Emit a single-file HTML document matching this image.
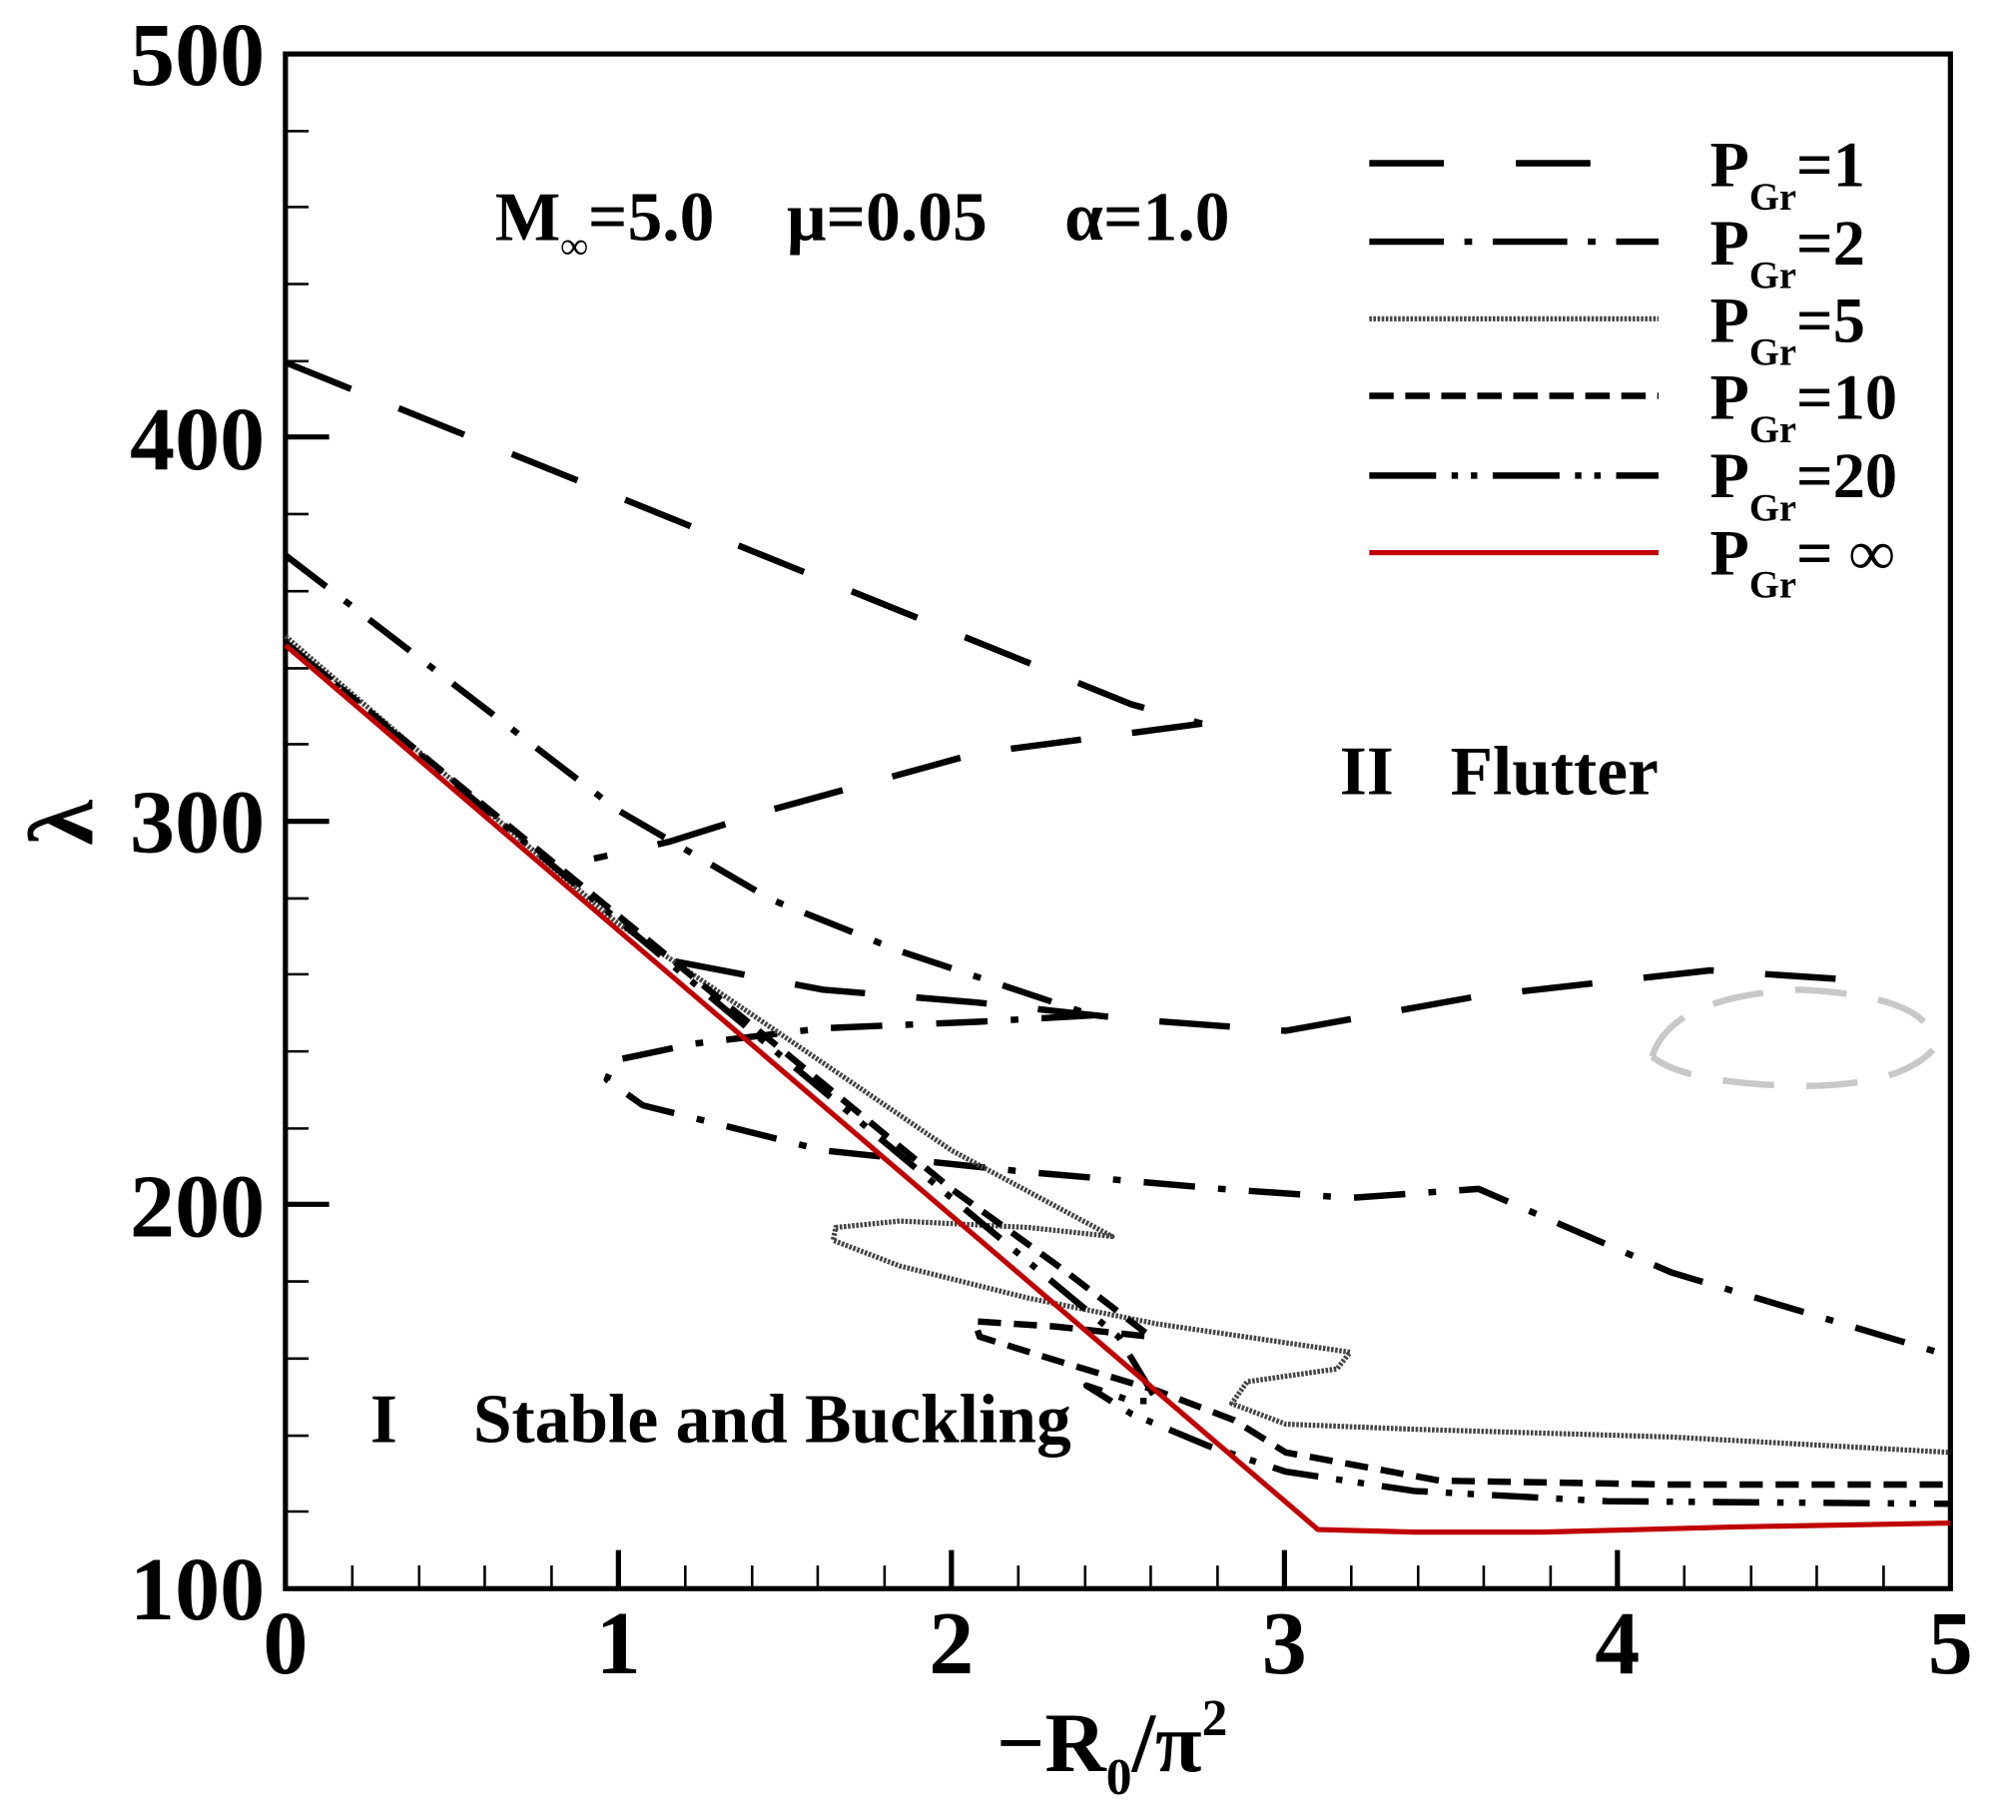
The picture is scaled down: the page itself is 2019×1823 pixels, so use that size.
<!DOCTYPE html>
<html><head><meta charset="utf-8"><style>
html,body{margin:0;padding:0;background:#fff}
svg{display:block}
text{font-family:"Liberation Serif",serif;font-weight:bold;fill:#000}
</style></head><body>
<svg width="2019" height="1823" viewBox="0 0 1568 1416" preserveAspectRatio="none" xmlns="http://www.w3.org/2000/svg">
<rect width="1568" height="1416" fill="#fff"/>
<rect x="222" y="42" width="1295" height="1194" fill="none" stroke="#000" stroke-width="4"/>
<g stroke="#000" stroke-width="2">
<line x1="222" y1="102" x2="240" y2="102"/><line x1="222" y1="161" x2="240" y2="161"/><line x1="222" y1="221" x2="240" y2="221"/><line x1="222" y1="281" x2="240" y2="281"/>
<line x1="222" y1="400" x2="240" y2="400"/><line x1="222" y1="460" x2="240" y2="460"/><line x1="222" y1="520" x2="240" y2="520"/><line x1="222" y1="579" x2="240" y2="579"/>
<line x1="222" y1="699" x2="240" y2="699"/><line x1="222" y1="758" x2="240" y2="758"/><line x1="222" y1="818" x2="240" y2="818"/><line x1="222" y1="878" x2="240" y2="878"/>
<line x1="222" y1="997" x2="240" y2="997"/><line x1="222" y1="1057" x2="240" y2="1057"/><line x1="222" y1="1117" x2="240" y2="1117"/><line x1="222" y1="1176" x2="240" y2="1176"/>
</g>
<g stroke="#000" stroke-width="4">
<line x1="222" y1="340" x2="256" y2="340"/><line x1="222" y1="639" x2="256" y2="639"/><line x1="222" y1="937" x2="256" y2="937"/>
</g>
<g stroke="#000" stroke-width="2">
<line x1="274" y1="1236" x2="274" y2="1218"/><line x1="326" y1="1236" x2="326" y2="1218"/><line x1="377" y1="1236" x2="377" y2="1218"/><line x1="429" y1="1236" x2="429" y2="1218"/>
<line x1="533" y1="1236" x2="533" y2="1218"/><line x1="585" y1="1236" x2="585" y2="1218"/><line x1="636" y1="1236" x2="636" y2="1218"/><line x1="688" y1="1236" x2="688" y2="1218"/>
<line x1="792" y1="1236" x2="792" y2="1218"/><line x1="844" y1="1236" x2="844" y2="1218"/><line x1="895" y1="1236" x2="895" y2="1218"/><line x1="947" y1="1236" x2="947" y2="1218"/>
<line x1="1051" y1="1236" x2="1051" y2="1218"/><line x1="1103" y1="1236" x2="1103" y2="1218"/><line x1="1154" y1="1236" x2="1154" y2="1218"/><line x1="1206" y1="1236" x2="1206" y2="1218"/>
<line x1="1310" y1="1236" x2="1310" y2="1218"/><line x1="1362" y1="1236" x2="1362" y2="1218"/><line x1="1413" y1="1236" x2="1413" y2="1218"/><line x1="1465" y1="1236" x2="1465" y2="1218"/>
</g>
<g stroke="#000" stroke-width="4">
<line x1="481" y1="1236" x2="481" y2="1206"/><line x1="740" y1="1236" x2="740" y2="1206"/><line x1="999" y1="1236" x2="999" y2="1206"/><line x1="1258" y1="1236" x2="1258" y2="1206"/>
</g>
<g font-size="70" text-anchor="end">
<text x="206" y="66">500</text><text x="206" y="365">400</text><text x="206" y="663">300</text><text x="206" y="962">200</text><text x="206" y="1260">100</text>
</g>
<g font-size="70" text-anchor="middle">
<text x="222" y="1302">0</text><text x="481" y="1302">1</text><text x="740" y="1302">2</text><text x="999" y="1302">3</text><text x="1258" y="1302">4</text><text x="1517" y="1302">5</text>
</g>
<text x="775" y="1378" font-size="66">−R<tspan font-size="40" dy="18">0</tspan><tspan dy="-18">/π</tspan><tspan font-size="40" dy="-28">2</tspan></text>
<text x="52" y="640" font-size="72" transform="rotate(-90 52 640)" text-anchor="middle" dy="20">λ</text>
<text x="385" y="187" font-size="54">M<tspan font-size="30" dy="14">∞</tspan><tspan dy="-14">=5.0</tspan></text>
<text x="612" y="187" font-size="54">μ=0.05</text>
<text x="828" y="187" font-size="54">α=1.0</text>
<text x="1042" y="618" font-size="54">II</text><text x="1128" y="618" font-size="54">Flutter</text>
<text x="288" y="1122" font-size="54">I</text><text x="368" y="1122" font-size="54">Stable and Buckling</text>
<g fill="none" stroke-linejoin="round">
<g stroke="#000" stroke-width="5" stroke-dasharray="55,40">
<path d="M222,282 L880,548 L935,563"/>
<path d="M935,563 L760,586 L600,630 L520,655 L462,668"/>
<path d="M525,748 L640,770 L760,780 L880,793 L1000,802 L1150,775 L1330,755 L1435,762"/>
</g>
<path d="M1285,822 Q1300,775 1400,770 Q1505,775 1505,815 Q1480,845 1400,845 Q1310,843 1285,822" stroke="#c8c8c8" stroke-width="5" stroke-dasharray="40,25"/>
<g stroke="#000" stroke-width="5" stroke-dasharray="40,18,6,18">
<path d="M222,432 L480,630 L600,700 L700,740 L850,790"/>
<path d="M850,790 L760,795 L640,800 L540,812 L478,825 L472,840 L500,860 L560,875 L640,895 L800,912 L950,925 L1050,932 L1150,925 L1300,990 L1517,1055"/>
</g>
<g stroke="#444" stroke-width="4" stroke-dasharray="2,1.2">
<path d="M222,495 L480,718 L740,895 L865,962 L800,955 L700,950 L650,955 L648,965 L700,985 L800,1010 L900,1030 L1050,1052 L1040,1065 L970,1075 L958,1092 L1000,1108 L1100,1112 L1300,1118 L1517,1130"/>
</g>
<g stroke="#000" stroke-width="5" stroke-dasharray="18,10">
<path d="M222,500 L740,925 L830,990 L895,1040 L820,1032 L758,1028 L762,1040 L820,1058 L900,1082 L960,1105 L1000,1130 L1120,1152 L1300,1155 L1517,1155"/>
</g>
<g stroke="#000" stroke-width="5" stroke-dasharray="36,14,5,12,5,14">
<path d="M222,500 L740,932 L870,1040 L900,1090 L880,1090 L845,1078 L880,1100 L940,1125 L1000,1145 L1100,1160 L1250,1168 L1517,1170"/>
</g>
<path d="M222,502 L1025,1190 L1100,1192 L1200,1192 L1350,1188 L1517,1185" stroke="#c00000" stroke-width="4"/>
</g>
<g fill="none" stroke-width="5">
<line x1="1065" y1="127" x2="1290" y2="127" stroke="#000" stroke-dasharray="58,56"/>
<line x1="1065" y1="188" x2="1290" y2="188" stroke="#000" stroke-dasharray="58,16,6,16"/>
<line x1="1065" y1="248" x2="1290" y2="248" stroke="#444" stroke-width="4" stroke-dasharray="2,1.2"/>
<line x1="1065" y1="308" x2="1290" y2="308" stroke="#000" stroke-dasharray="19,9"/>
<line x1="1065" y1="370" x2="1290" y2="370" stroke="#000" stroke-dasharray="52,12,5,10,5,12"/>
<line x1="1065" y1="430" x2="1290" y2="430" stroke="#c00000" stroke-width="4"/>
</g>
<g font-size="50">
<text x="1330" y="145">P<tspan font-size="30" dy="18">Gr</tspan><tspan dy="-18">=1</tspan></text>
<text x="1330" y="206">P<tspan font-size="30" dy="18">Gr</tspan><tspan dy="-18">=2</tspan></text>
<text x="1330" y="266">P<tspan font-size="30" dy="18">Gr</tspan><tspan dy="-18">=5</tspan></text>
<text x="1330" y="326">P<tspan font-size="30" dy="18">Gr</tspan><tspan dy="-18">=10</tspan></text>
<text x="1330" y="387">P<tspan font-size="30" dy="18">Gr</tspan><tspan dy="-18">=20</tspan></text>
<text x="1330" y="447">P<tspan font-size="30" dy="18">Gr</tspan><tspan dy="-18">= ∞</tspan></text>
</g>
</svg>
</body></html>
